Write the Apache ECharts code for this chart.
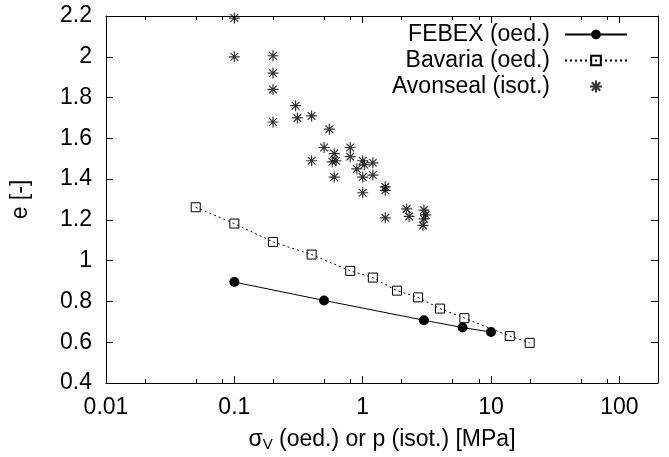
<!DOCTYPE html>
<html>
<head>
<meta charset="utf-8">
<script src="https://cdn.jsdelivr.net/npm/echarts@6/dist/echarts.min.js"></script>
<style>html,body{margin:0;padding:0;background:#fff;}#c{width:669px;height:457px;}</style>
</head>
<body>
<div id="c"></div>
<script>
// ---- data ----
var febexX = [0.1, 0.5, 3, 6, 10];
var febexE = [0.895, 0.805, 0.708, 0.672, 0.65];

var bavariaX = [0.05, 0.1, 0.2, 0.4, 0.8, 1.2, 1.85, 2.7, 4, 6.2, 14, 20];
var bavariaE = [1.262, 1.182, 1.092, 1.03, 0.95, 0.917, 0.853, 0.82, 0.765, 0.718, 0.63, 0.597];

var avonX = [0.1, 0.1, 0.2, 0.2, 0.2, 0.2, 0.3, 0.31, 0.4, 0.55, 0.5, 0.4, 0.6, 0.58, 0.62, 0.6,
             0.8, 0.8, 0.9, 1.0, 1.03, 1.2, 1.0, 1.2, 1.0, 1.5, 1.5, 1.5, 2.2, 2.3, 3.0, 3.1, 3.0, 2.95];
var avonE = [2.19, 2.0, 2.005, 1.92, 1.84, 1.68, 1.76, 1.70, 1.71, 1.645, 1.555, 1.49, 1.525, 1.485, 1.49, 1.41,
             1.555, 1.51, 1.45, 1.49, 1.47, 1.48, 1.41, 1.42, 1.333, 1.362, 1.345, 1.21, 1.254, 1.217, 1.248, 1.225, 1.205, 1.173];

var seriesNames = ['FEBEX (oed.)', 'Bavaria (oed.)', 'Avonseal (isot.)'];
var xMin = 0.01, xMax = 200;
var yMin = 0.4, yMax = 2.2, yStep = 0.2;
var minorFactors = [2, 5, 8];
var xName = '{s|σ}{sub|V}{s| (oed.) or p (isot.) [MPa]}';
var yName = 'e [-]';

function pairs(xs, ys) { return xs.map(function (x, i) { return [x, ys[i]]; }); }

var FONT = 'Liberation Sans, Arial, sans-serif';
var FS = 23;
var chart = echarts.init(document.getElementById('c'), null, { renderer: 'canvas' });

var starPath = 'path://M5 0L5 10M0 5L10 5M1.5 1.5L8.5 8.5M8.5 1.5L1.5 8.5';

var option = {
  backgroundColor: '#fff',
  animation: false,
  grid: { left: 106, right: 11, top: 16, bottom: 74, containLabel: false },
  legend: {
    orient: 'vertical',
    right: 41,
    top: 23,
    padding: 0,
    align: 'right',
    itemWidth: 62,
    itemHeight: 12,
    itemGap: 3,
    textStyle: { fontFamily: FONT, fontSize: FS, color: '#000', lineHeight: 23, padding: [0, 10, 0, 0] },
    data: seriesNames
  },
  xAxis: [{
    type: 'log', logBase: 10, min: xMin, max: xMax,
    position: 'bottom',
    name: xName, nameLocation: 'middle', nameGap: 44,
    nameTextStyle: {
      rich: {
        s: { fontFamily: FONT, fontSize: FS, color: '#000' },
        sub: { fontFamily: FONT, fontSize: 15, color: '#000', verticalAlign: 'bottom', padding: [10, 0, 0, 0] }
      }
    },
    axisLine: { show: true, onZero: false, lineStyle: { color: '#000', width: 1 } },
    axisTick: { show: true, inside: true, length: 7, lineStyle: { color: '#000' } },
    axisLabel: {
      show: true, margin: 13, fontFamily: FONT, fontSize: FS, color: '#000',
      showMaxLabel: false,
      formatter: function (v) { return String(+Number(v).toPrecision(3)); }
    },
    splitLine: { show: false }
  }, {
    type: 'log', logBase: 10, min: xMin, max: xMax,
    position: 'top',
    axisLine: { show: true, onZero: false, lineStyle: { color: '#000', width: 1 } },
    axisTick: { show: true, inside: true, length: 7, lineStyle: { color: '#000' } },
    axisLabel: { show: false },
    splitLine: { show: false }
  }],
  yAxis: [{
    type: 'value', min: yMin, max: yMax, interval: yStep,
    position: 'left',
    name: yName, nameLocation: 'middle', nameGap: 74,
    nameTextStyle: { fontFamily: FONT, fontSize: FS, color: '#000' },
    axisLine: { show: true, onZero: false, lineStyle: { color: '#000', width: 1 } },
    axisTick: { show: true, inside: true, length: 7, lineStyle: { color: '#000' } },
    axisLabel: { show: true, margin: 14, fontFamily: FONT, fontSize: FS, color: '#000' },
    splitLine: { show: false }
  }, {
    type: 'value', min: yMin, max: yMax, interval: yStep,
    position: 'right',
    axisLine: { show: true, onZero: false, lineStyle: { color: '#000', width: 1 } },
    axisTick: { show: true, inside: true, length: 7, lineStyle: { color: '#000' } },
    axisLabel: { show: false },
    splitLine: { show: false }
  }],
  series: [{
    name: seriesNames[0],
    type: 'line',
    data: pairs(febexX, febexE),
    symbol: 'circle', symbolSize: 10,
    itemStyle: { color: '#000' },
    lineStyle: { color: '#000', width: 1 },
    z: 3
  }, {
    name: seriesNames[1],
    type: 'line',
    data: pairs(bavariaX, bavariaE),
    symbol: 'rect', symbolSize: 9,
    itemStyle: { color: 'rgba(255,255,255,0)', borderColor: '#000', borderWidth: 1 },
    lineStyle: { color: '#000', width: 1, type: [2, 3] },
    z: 3
  }, {
    name: seriesNames[2],
    type: 'scatter',
    data: pairs(avonX, avonE),
    symbol: starPath, symbolSize: 11,
    itemStyle: { color: 'rgba(0,0,0,0)', borderColor: '#000', borderWidth: 1.2 },
    z: 3
  }]
};
chart.setOption(option);

// minor ticks on the log x axes (2, 5, 8 of each decade), positioned through the axis scale
var g = [];
var yb = chart.convertToPixel({ yAxisIndex: 0 }, yMin);
var yt = chart.convertToPixel({ yAxisIndex: 0 }, yMax);
for (var d = xMin; d < xMax; d *= 10) {
  minorFactors.forEach(function (f) {
    var v = d * f;
    if (v >= xMax) return;
    var px = Math.round(chart.convertToPixel({ xAxisIndex: 0 }, v)) + 0.5;
    g.push({ type: 'line', silent: true, shape: { x1: px, y1: yb, x2: px, y2: yb - 4 }, style: { stroke: '#000', lineWidth: 1 } });
    g.push({ type: 'line', silent: true, shape: { x1: px, y1: yt, x2: px, y2: yt + 4 }, style: { stroke: '#000', lineWidth: 1 } });
  });
}
chart.setOption({ graphic: g });
</script>
</body>
</html>
